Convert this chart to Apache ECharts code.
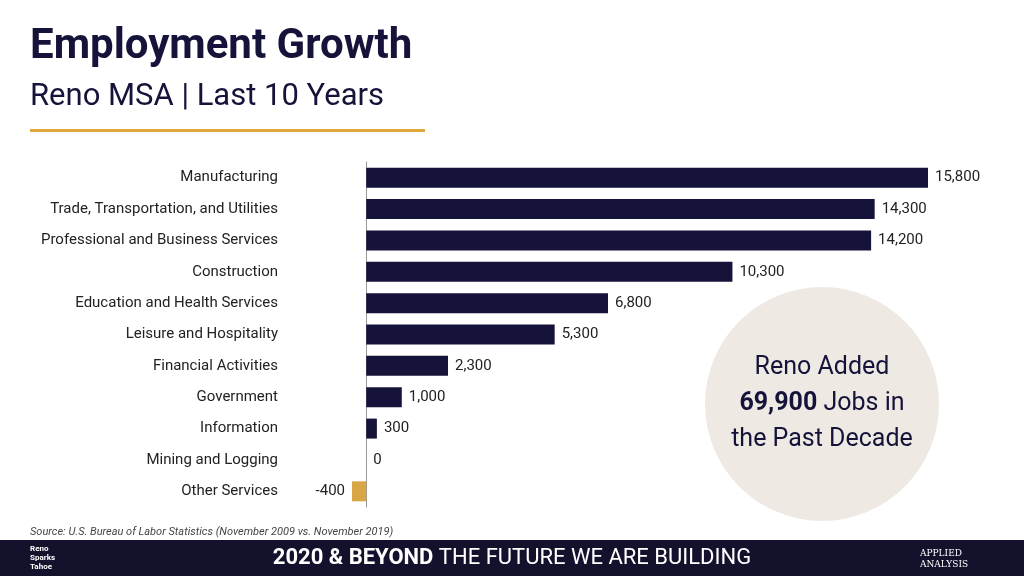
<!DOCTYPE html><html><head><meta charset="utf-8"><script src="https://cdn.jsdelivr.net/npm/echarts@6/dist/echarts.min.js"></script>
<style>html,body{margin:0;padding:0;background:#fff}#c{width:1024px;height:576px}</style></head><body><div id="c"></div><script>
const categories=["Manufacturing","Trade, Transportation, and Utilities","Professional and Business Services","Construction","Education and Health Services","Leisure and Hospitality","Financial Activities","Government","Information","Mining and Logging","Other Services"];
const values=[15800,14300,14200,10300,6800,5300,2300,1000,300,0,-400];
const F='Roboto, sans-serif';
const chart=echarts.init(document.getElementById('c'));
chart.setOption({
 animation:false,
 grid:{left:352,right:96,top:162,bottom:69,containLabel:false},
 xAxis:{type:'value',min:-400,max:15800,show:false},
 yAxis:{type:'category',inverse:true,data:categories,
  axisLine:{onZero:true,lineStyle:{color:'#999'}},axisTick:{show:false},
  axisLabel:{margin:74,color:'#222',fontSize:15,fontFamily:F}},
 series:[{type:'bar',barWidth:20,
  data:values.map(v=>({value:v,itemStyle:{color:v<0?'#d9a645':'#16133a'},label:{position:v<0?'left':'right'}})),
  label:{show:true,position:'right',distance:7,color:'#222',fontSize:15,fontFamily:F,
   formatter:p=>p.value.toLocaleString('en-US')}}],
 graphic:[
  {type:'text',left:30,top:26,style:{text:'Employment Growth',font:'bold 42px Roboto, sans-serif',fill:'#16133a'}},
  {type:'text',left:30,top:82,style:{text:'Reno MSA | Last 10 Years',font:'31px Roboto, sans-serif',fill:'#16133a'}},
  {type:'rect',shape:{x:30,y:129,width:395,height:3},style:{fill:'#e0a83a'}},
  {type:'circle',shape:{cx:822,cy:404,r:117},style:{fill:'#eeeae3'}},
  {type:'text',x:822,y:404,style:{rich:{a:{font:'25px Roboto, sans-serif',fill:'#16133a',lineHeight:36},b:{font:'bold 25px Roboto, sans-serif',fill:'#16133a',lineHeight:36}},text:'{a|Reno Added}\n{b|69,900}{a| Jobs in}\n{a|the Past Decade}',align:'center',verticalAlign:'middle'}},
  {type:'text',left:30,top:527,style:{text:'Source: U.S. Bureau of Labor Statistics (November 2009 vs. November 2019)',font:'italic 11px Roboto, sans-serif',fill:'#444'}},
  {type:'rect',shape:{x:0,y:540,width:1024,height:36},style:{fill:'#14112d'}},
  {type:'text',x:512,y:558,style:{rich:{a:{font:'bold 22px Roboto, sans-serif',fill:'#fff'},b:{font:'22px Roboto, sans-serif',fill:'#fff'}},text:'{a|2020 & BEYOND}{b| THE FUTURE WE ARE BUILDING}',align:'center',verticalAlign:'middle'}},
  {type:'text',left:30,top:544,style:{text:'Reno\nSparks\nTahoe',font:'bold 8px Roboto, sans-serif',fill:'#fff',lineHeight:9}},
  {type:'text',left:920,top:548,style:{text:'APPLIED\nANALYSIS',font:'9px "DejaVu Serif", serif',fill:'#fff',lineHeight:11}}
 ]
});
</script></body></html>
